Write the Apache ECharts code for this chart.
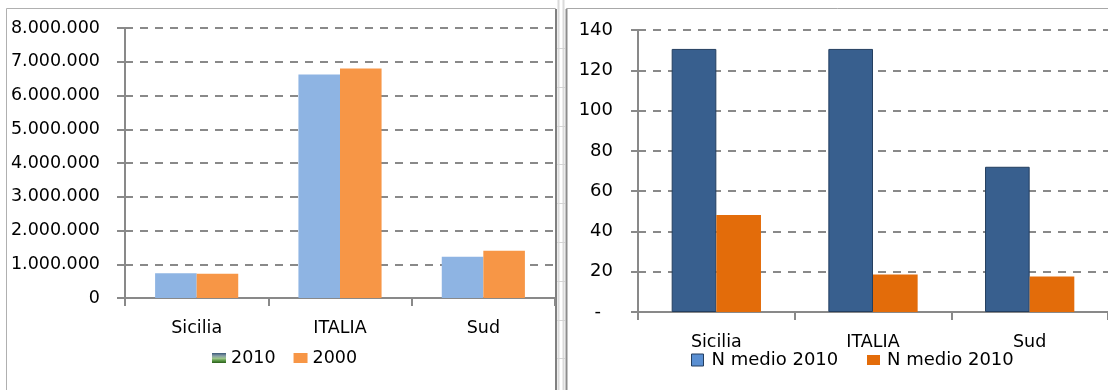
<!DOCTYPE html>
<html>
<head>
<meta charset="utf-8">
<script src="https://cdn.jsdelivr.net/npm/echarts@6/dist/echarts.min.js"></script>
<style>
  html, body { margin: 0; padding: 0; background: #ffffff; }
  #chart { width: 1108px; height: 390px; }
</style>
</head>
<body>
<div id="chart"></div>
<script>
// Categories shared by both panels
const categories = ['Sicilia', 'ITALIA', 'Sud'];

// Left panel: totals for the two census years
const values2010 = [730000, 6620000, 1220000];
const values2000 = [720000, 6800000, 1400000];

// Right panel: average values
const nMedioBlue = [130.6, 130.6, 72.1];
const nMedioOrange = [48.2, 18.6, 17.6];

// Axis scales
const leftAxisMax = 8000000;
const leftAxisStep = 1000000;
const rightAxisMax = 140;
const rightAxisStep = 20;

// Legend labels
const leftLegend = ['2010', '2000'];
const rightLegendLabel = 'N medio 2010';

const FONT = 'DejaVu Sans';
const AXIS_GRAY = '#898989';

function thousands(v) {
  return String(v).replace(/\B(?=(\d{3})+(?!\d))/g, '.');
}

const chart = echarts.init(document.getElementById('chart'), null, { renderer: 'canvas' });

const axisLineStyle = { color: AXIS_GRAY, width: 2 };
const gridLineStyle = { color: AXIS_GRAY, width: 2, type: [8, 7] };

// Sheet separator between the two panels
const separatorRows = [];
for (let y = 48; y < 390; y += 38.8) {
  separatorRows.push({
    type: 'rect', silent: true,
    shape: { x: 557, y: Math.round(y), width: 8, height: 1 },
    style: { fill: '#d4d4d4' }
  });
}

const option = {
  backgroundColor: '#ffffff',
  animation: false,
  textStyle: { fontFamily: FONT, color: '#000000' },
  graphic: [
    // left panel frame
    { type: 'rect', silent: true, shape: { x: 6.5, y: 8.5, width: 549, height: 400 },
      style: { fill: null, stroke: '#b0b0b0', lineWidth: 1 } },
    { type: 'rect', silent: true, shape: { x: 555, y: 9, width: 2, height: 381 },
      style: { fill: '#808080' } },
    // separator band
    { type: 'rect', silent: true, shape: { x: 557.5, y: 0, width: 2, height: 390 },
      style: { fill: '#dadada' } },
    { type: 'rect', silent: true, shape: { x: 562.5, y: 0, width: 2, height: 390 },
      style: { fill: '#dadada' } },
    ...separatorRows,
    // right panel frame
    { type: 'rect', silent: true, shape: { x: 566.5, y: 8.5, width: 560, height: 400 },
      style: { fill: null, stroke: '#a8a8a8', lineWidth: 1 } },
    { type: 'rect', silent: true, shape: { x: 565.5, y: 9, width: 2, height: 381 },
      style: { fill: '#8c8c8c' } }
  ],
  legend: [
    {
      left: 212, top: 349, padding: 0,
      itemWidth: 14, itemHeight: 10, itemGap: 18,
      textStyle: { fontFamily: FONT, fontSize: 17.5, color: '#000' },
      data: [
        { name: leftLegend[0], icon: 'rect',
          itemStyle: { color: new echarts.graphic.LinearGradient(0, 0, 0, 1, [
            { offset: 0, color: '#3b5878' },
            { offset: 0.3, color: '#8aa2a8' },
            { offset: 0.55, color: '#9cc58a' },
            { offset: 0.8, color: '#4f8f3a' },
            { offset: 1, color: '#2d5e1e' }
          ]) } },
        { name: leftLegend[1], icon: 'rect' }
      ]
    },
    {
      left: 691, top: 351, padding: 0,
      itemWidth: 12, itemHeight: 12,
      textStyle: { fontFamily: FONT, fontSize: 18, color: '#000', padding: [0, 0, 0, 3] },
      data: [
        { name: rightLegendLabel, icon: 'rect',
          itemStyle: { color: '#5a8fd2', borderColor: '#243f60', borderWidth: 1 } }
      ]
    },
    {
      left: 867, top: 351, padding: 0,
      itemWidth: 13, itemHeight: 10,
      textStyle: { fontFamily: FONT, fontSize: 18, color: '#000', padding: [0, 0, 0, 2] },
      data: [
        { name: rightLegendLabel, icon: 'rect',
          itemStyle: { color: '#e36c0a', borderWidth: 0 } }
      ]
    }
  ],
  grid: [
    { left: 125, top: 28, width: 430, height: 270 },
    { left: 638, top: 30, width: 474, height: 282 }
  ],
  xAxis: [
    {
      type: 'category', gridIndex: 0, data: categories,
      axisLine: { lineStyle: axisLineStyle },
      axisTick: { show: true, length: 8, lineStyle: axisLineStyle },
      axisLabel: { margin: 21, fontFamily: FONT, fontSize: 17.5, color: '#000' },
      splitLine: { show: false }
    },
    {
      type: 'category', gridIndex: 1, data: categories,
      axisLine: { lineStyle: axisLineStyle },
      axisTick: { show: true, length: 8, lineStyle: axisLineStyle },
      axisLabel: { margin: 21, fontFamily: FONT, fontSize: 17.5, color: '#000' },
      splitLine: { show: false }
    }
  ],
  yAxis: [
    {
      type: 'value', gridIndex: 0, min: 0, max: leftAxisMax, interval: leftAxisStep,
      axisLine: { show: true, lineStyle: axisLineStyle },
      axisTick: { show: true, length: 8, lineStyle: axisLineStyle },
      axisLabel: { margin: 25, fontFamily: FONT, fontSize: 17.5, color: '#000',
        formatter: v => thousands(v) },
      splitLine: { show: true, lineStyle: gridLineStyle }
    },
    {
      type: 'value', gridIndex: 1, min: 0, max: rightAxisMax, interval: rightAxisStep,
      axisLine: { show: true, lineStyle: axisLineStyle },
      axisTick: { show: true, length: 7, lineStyle: axisLineStyle },
      axisLabel: { margin: 25, fontFamily: FONT, fontSize: 18, color: '#000',
        formatter: v => (v === 0 ? '{z|-}' : String(v)),
        rich: { z: { fontFamily: FONT, fontSize: 18, color: '#000', padding: [0, 12, 0, 0] } } },
      splitLine: { show: true, lineStyle: gridLineStyle }
    }
  ],
  series: [
    {
      name: leftLegend[0], type: 'bar', xAxisIndex: 0, yAxisIndex: 0,
      data: values2010, barGap: '0%', barCategoryGap: '42%',
      itemStyle: { color: '#8eb4e3' }
    },
    {
      name: leftLegend[1], type: 'bar', xAxisIndex: 0, yAxisIndex: 0,
      data: values2000, barGap: '0%', barCategoryGap: '42%',
      itemStyle: { color: '#f79646' }
    },
    {
      name: rightLegendLabel, type: 'bar', xAxisIndex: 1, yAxisIndex: 1,
      data: nMedioBlue, barGap: '0%', barCategoryGap: '43%',
      itemStyle: { color: '#385f8e', borderColor: '#243f60', borderWidth: 1 }
    },
    {
      name: rightLegendLabel, type: 'bar', xAxisIndex: 1, yAxisIndex: 1,
      data: nMedioOrange, barGap: '0%', barCategoryGap: '43%',
      itemStyle: { color: '#e36c0a' }
    }
  ]
};

chart.setOption(option);
</script>
</body>
</html>
